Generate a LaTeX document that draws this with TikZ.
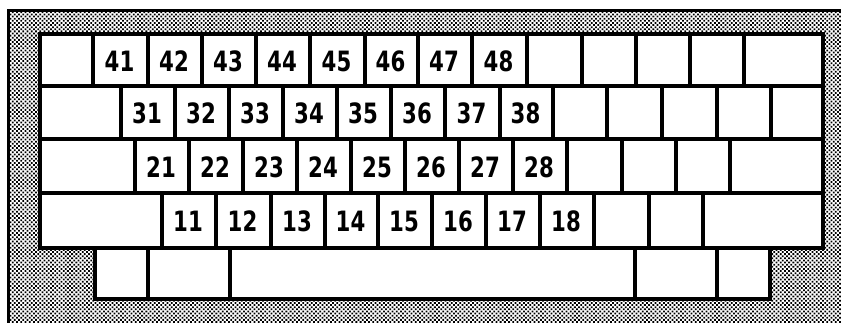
\documentclass[tikz,border=0pt]{standalone}
\usepackage{fontspec}
\newfontfamily\keyfont{DejaVu Sans}
\usetikzlibrary{patterns.meta}
\tikzset{
  kbkey/.style={draw=black, fill=white, line width=3.5pt, rectangle, inner sep=0pt, outer sep=0pt,
    text height=18pt, text depth=0pt,
    font=\keyfont\bfseries\fontsize{28}{28}\selectfont},
  frame/.style={draw=black, line width=3pt, pattern={Dots[distance=3pt, radius=1.25pt, angle=45]}, pattern color=black},
}
\newcommand\kbkey[6]{%
  \node[kbkey, minimum width={(#3-#2)*1pt}, minimum height={(#5-#4)*1pt}] (#1) at ({(#2+#3)/2},{(#4+#5)/2}) {\hspace*{-2pt}\raisebox{-2pt}{\scalebox{0.76}[1]{#6}}};}
\begin{document}
\begin{tikzpicture}[x=1pt,y=-1pt]
\useasboundingbox (0,0) rectangle (841,322);
\fill[white] (0,0) rectangle (841,322);
\path[frame] (8,10) rectangle (852,334);
% row 1
\kbkey{r1a}{40}{93}{34}{86}{}
\kbkey{k41}{93}{148}{34}{86}{41}
\kbkey{k42}{148}{202}{34}{86}{42}
\kbkey{k43}{202}{256}{34}{86}{43}
\kbkey{k44}{256}{310}{34}{86}{44}
\kbkey{k45}{310}{365}{34}{86}{45}
\kbkey{k46}{365}{418}{34}{86}{46}
\kbkey{k47}{418}{472}{34}{86}{47}
\kbkey{k48}{472}{527}{34}{86}{48}
\kbkey{r1b}{527}{582}{34}{86}{}
\kbkey{r1c}{582}{636}{34}{86}{}
\kbkey{r1d}{636}{690}{34}{86}{}
\kbkey{r1e}{690}{744}{34}{86}{}
\kbkey{r1f}{744}{823}{34}{86}{}
% row 2
\kbkey{r2a}{40}{121}{86}{139}{}
\kbkey{k31}{121}{175}{86}{139}{31}
\kbkey{k32}{175}{229}{86}{139}{32}
\kbkey{k33}{229}{283}{86}{139}{33}
\kbkey{k34}{283}{337}{86}{139}{34}
\kbkey{k35}{337}{391}{86}{139}{35}
\kbkey{k36}{391}{445}{86}{139}{36}
\kbkey{k37}{445}{500}{86}{139}{37}
\kbkey{k38}{500}{553}{86}{139}{38}
\kbkey{r2b}{553}{607}{86}{139}{}
\kbkey{r2c}{607}{662}{86}{139}{}
\kbkey{r2d}{662}{717}{86}{139}{}
\kbkey{r2e}{717}{771}{86}{139}{}
\kbkey{r2f}{771}{823}{86}{139}{}
% row 3
\kbkey{r3a}{40}{135}{139}{193}{}
\kbkey{k21}{135}{189}{139}{193}{21}
\kbkey{k22}{189}{243}{139}{193}{22}
\kbkey{k23}{243}{297}{139}{193}{23}
\kbkey{k24}{297}{351}{139}{193}{24}
\kbkey{k25}{351}{405}{139}{193}{25}
\kbkey{k26}{405}{459}{139}{193}{26}
\kbkey{k27}{459}{513}{139}{193}{27}
\kbkey{k28}{513}{567}{139}{193}{28}
\kbkey{r3b}{567}{622}{139}{193}{}
\kbkey{r3c}{622}{676}{139}{193}{}
\kbkey{r3d}{676}{730}{139}{193}{}
\kbkey{r3e}{730}{823}{139}{193}{}
% row 4
\kbkey{r4a}{40}{162}{193}{248}{}
\kbkey{k11}{162}{216}{193}{248}{11}
\kbkey{k12}{216}{271}{193}{248}{12}
\kbkey{k13}{271}{325}{193}{248}{13}
\kbkey{k14}{325}{378}{193}{248}{14}
\kbkey{k15}{378}{432}{193}{248}{15}
\kbkey{k16}{432}{486}{193}{248}{16}
\kbkey{k17}{486}{540}{193}{248}{17}
\kbkey{k18}{540}{594}{193}{248}{18}
\kbkey{r4b}{594}{649}{193}{248}{}
\kbkey{r4c}{649}{703}{193}{248}{}
\kbkey{r4d}{703}{823}{193}{248}{}
% row 5
\kbkey{r5a}{95}{148}{248}{299}{}
\kbkey{r5b}{148}{230}{248}{299}{}
\kbkey{r5c}{230}{635}{248}{299}{}
\kbkey{r5d}{635}{717}{248}{299}{}
\kbkey{r5e}{717}{770}{248}{299}{}
\end{tikzpicture}
\end{document}
